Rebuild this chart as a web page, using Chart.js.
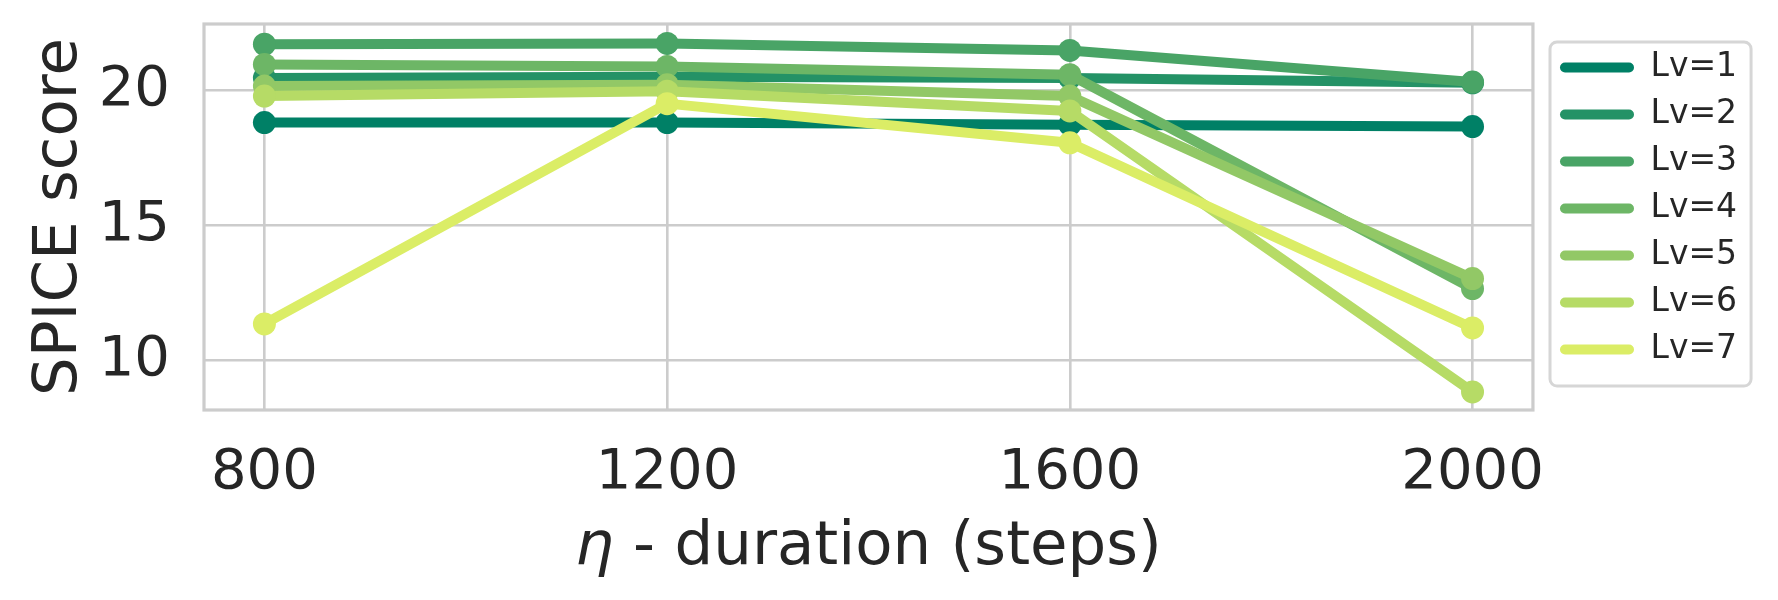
<!DOCTYPE html>
<html>
<head>
  <title>SPICE score vs duration</title>
  <script src="https://cdn.jsdelivr.net/npm/chart.js@4"></script>
  <style>
    body { margin: 0; background: #fff; }
  </style>
</head>
<body>
  <canvas id="myChart" width="1778" height="600"></canvas>
  <script>
    // data
    const steps = [800, 1200, 1600, 2000];
    const levels = ['Lv=1', 'Lv=2', 'Lv=3', 'Lv=4', 'Lv=5', 'Lv=6', 'Lv=7'];
    const lv1 = [18.80, 18.80, 18.72, 18.65];
    const lv2 = [20.45, 20.50, 20.45, 20.27];
    const lv3 = [21.70, 21.73, 21.47, 20.30];
    const lv4 = [20.95, 20.88, 20.57, 12.65];
    const lv5 = [20.15, 20.20, 19.78, 13.02];
    const lv6 = [19.78, 19.96, 19.23, 8.82];
    const lv7 = [11.34, 19.50, 18.05, 11.19];
    const xTicks = [800, 1200, 1600, 2000];
    const yTicks = [10, 15, 20];

    const series = [lv1, lv2, lv3, lv4, lv5, lv6, lv7];
    const colors = ['#008066', '#249266', '#49a466', '#6db666', '#92c866', '#b6db66', '#dbed66'];
    const ink = '#262626';
    const gridCol = '#cccccc';
    const fontFam = '"DejaVu Sans", sans-serif';

    const datasets = series.map((vals, i) => ({
      label: levels[i],
      data: vals.map((v, j) => ({ x: steps[j], y: v })),
      borderColor: colors[i],
      backgroundColor: colors[i],
      borderWidth: 10,
      borderCapStyle: 'round',
      borderJoinStyle: 'round',
      pointRadius: 11.5,
      pointBorderWidth: 0,
      pointHoverRadius: 11.5,
      order: series.length - i
    }));

    // frame, legend box and italic x title
    const extras = {
      id: 'extras',
      afterLayout(chart) {
        const lg = chart.legend;
        const dx = 1546 - lg.left;
        lg.left += dx; lg.right += dx;
        const dy = 37 - lg.top;
        lg.top += dy; lg.bottom += dy;
      },
      afterDraw(chart) {
        const c = chart.ctx;
        const a = chart.chartArea;
        c.save();
        c.strokeStyle = gridCol;
        c.lineWidth = 3.2;
        c.strokeRect(a.left, a.top, a.right - a.left, a.bottom - a.top);

        const hb = chart.legend.legendHitBoxes;
        if (hb && hb.length) {
          const l = Math.min(...hb.map(h => h.left)) - 10;
          const t = Math.min(...hb.map(h => h.top)) - 9;
          const r = Math.max(...hb.map(h => h.left + h.width)) + 14;
          const b = Math.max(...hb.map(h => h.top + h.height)) + 20;
          c.lineWidth = 3;
          c.strokeStyle = '#d6d6d6';
          c.beginPath();
          c.roundRect(l, t, r - l, b - t, 7);
          c.stroke();
        }

        const cx = (a.left + a.right) / 2;
        const y = 564;
        const f1 = 'italic 61px ' + fontFam;
        const f2 = '61px ' + fontFam;
        const t1 = 'η', t2 = ' - duration (steps)';
        c.font = f1; const w1 = c.measureText(t1).width;
        c.font = f2; const w2 = c.measureText(t2).width;
        const x0 = cx - (w1 + w2) / 2;
        c.fillStyle = ink;
        c.textBaseline = 'alphabetic';
        c.textAlign = 'left';
        c.font = f1; c.fillText(t1, x0, y);
        c.font = f2; c.fillText(t2, x0 + w1, y);
        c.restore();
      }
    };

    const ctx = document.getElementById('myChart').getContext('2d');
    const chart = new Chart(ctx, {
      type: 'line',
      data: { datasets: datasets },
      options: {
        responsive: false,
        animation: false,
        events: [],
        layout: { padding: { top: 24, left: 0, right: 44, bottom: 0 } },
        plugins: {
          tooltip: { enabled: false },
          legend: {
            position: 'right',
            align: 'start',
            labels: {
              sort: (a, b) => a.datasetIndex - b.datasetIndex,
              generateLabels: ch => Chart.defaults.plugins.legend.labels.generateLabels(ch)
                .map(l => Object.assign(l, { lineWidth: 0 })),
              boxWidth: 74,
              boxHeight: 10,
              useBorderRadius: true,
              borderRadius: 5,
              padding: 14,
              color: ink,
              font: { family: fontFam, size: 33 }
            }
          }
        },
        scales: {
          x: {
            type: 'linear',
            min: 740,
            max: 2060,
            afterBuildTicks: s => { s.ticks = xTicks.map(v => ({ value: v })); },
            afterFit: s => { s.height = 190; s.paddingLeft = 0; s.paddingRight = 0; },
            grid: { color: gridCol, lineWidth: 2.6, drawTicks: false },
            border: { display: false },
            ticks: {
              color: ink, padding: 30, maxRotation: 0,
              font: { family: fontFam, size: 56 },
              callback: v => String(v)
            }
          },
          y: {
            min: 8.15,
            max: 22.45,
            afterBuildTicks: s => { s.ticks = yTicks.map(v => ({ value: v })); },
            afterFit: s => { s.width = 204; s.paddingTop = 0; s.paddingBottom = 0; },
            grid: { color: gridCol, lineWidth: 2.6, drawTicks: false },
            border: { display: false },
            ticks: {
              color: ink, padding: 34,
              font: { family: fontFam, size: 56 },
              callback: v => String(v)
            },
            title: {
              display: true,
              text: 'SPICE score',
              color: ink,
              font: { family: fontFam, size: 61 },
              padding: { top: 24, bottom: 0 }
            }
          }
        }
      },
      plugins: [extras]
    });
  </script>
</body>
</html>
